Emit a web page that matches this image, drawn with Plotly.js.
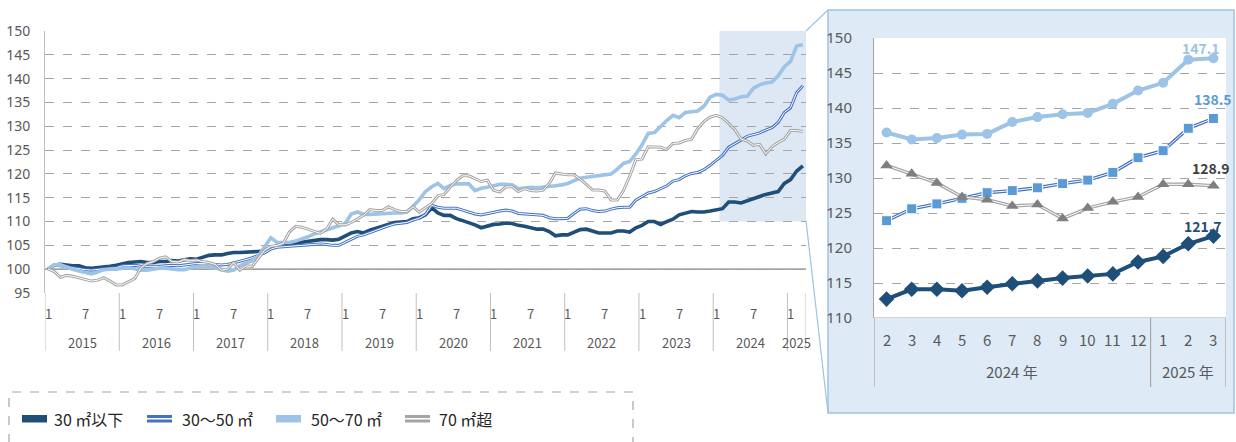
<!DOCTYPE html>
<html><head><meta charset="utf-8">
<script src="https://cdn.plot.ly/plotly-3.0.1.min.js"></script>
<style>html,body{margin:0;padding:0;background:#fff;overflow:hidden}#chart{width:1236px;height:442px}</style>
</head><body><div id="chart"></div>
<script>
// ---- categories ----
const years = [2015,2016,2017,2018,2019,2020,2021,2022,2023,2024,2025];
const monthsInYear = [12,12,12,12,12,12,12,12,12,12,3];
const monthTickLabels = [1,7];
const seriesNames = ['30 ㎡以下','30～50 ㎡','50～70 ㎡','70 ㎡超'];
const yearSuffix = ' 年';
const insetStartYear = 2024, insetStartMonth = 2;

// ---- series values (2015/1 - 2025/3) ----
const s30under = [
 100.0,100.9,101.0,100.8,100.7,100.7,100.3,100.2,100.3,100.5,100.6,100.8,
 101.1,101.4,101.5,101.6,101.4,101.4,101.6,101.6,101.8,101.7,102.0,102.2,
 102.1,102.5,102.9,103.0,103.0,103.3,103.5,103.5,103.6,103.7,103.7,103.8,
 104.5,104.9,105.2,105.3,105.5,105.7,105.8,106.0,106.2,106.2,106.1,106.3,
 107.0,107.6,107.9,107.6,108.2,108.6,108.9,109.4,109.8,109.9,110.0,110.6,
 110.8,111.4,112.9,111.8,111.3,111.3,110.6,110.2,109.8,109.3,108.7,109.1,
 109.4,109.5,109.7,109.6,109.2,109.0,108.6,108.4,108.4,107.9,107.0,107.2,
 107.2,107.8,108.3,108.4,108.0,107.6,107.6,107.6,108.0,108.0,107.8,108.7,
 109.2,110.0,110.0,109.4,110.0,110.5,111.4,111.7,112.1,112.0,112.0,112.2,
 112.5,112.7,114.1,114.1,113.9,114.4,114.9,115.3,115.7,116.0,116.3,118.0,
 118.8,120.6,121.7];
const s30to50 = [
 100.0,100.8,100.7,100.5,100.2,100.0,99.9,99.8,100.0,100.1,100.2,100.3,
 100.7,100.8,100.8,100.6,100.6,100.5,100.6,100.7,100.8,100.7,100.9,101.0,
 101.2,101.2,101.1,101.0,100.9,101.0,101.3,101.6,102.0,102.4,102.9,103.4,
 104.2,104.6,104.7,104.8,104.8,105.0,105.1,105.2,105.3,105.2,105.0,105.0,
 105.6,106.3,106.9,107.2,107.7,108.2,108.6,109.1,109.5,109.7,109.8,110.3,
 110.7,111.5,113.4,113.0,112.8,112.8,112.8,112.4,112.0,111.6,111.4,111.7,
 112.0,112.2,112.4,112.2,111.7,111.6,111.4,111.4,111.3,110.8,110.6,110.6,
 110.7,111.7,112.6,112.7,112.3,112.1,112.2,112.6,112.9,113.0,113.0,114.5,
 115.3,116.0,116.3,116.9,117.5,118.5,118.8,119.6,120.1,120.3,120.9,121.8,
 122.8,123.9,125.6,126.3,127.1,127.9,128.2,128.6,129.2,129.7,130.8,132.9,
 133.9,137.1,138.5];
const s50to70 = [
 100.0,100.9,100.9,100.4,100.0,99.6,99.3,99.0,99.4,99.9,100.0,100.0,
 100.2,100.3,100.1,99.8,99.8,100.0,100.2,100.2,100.0,99.9,99.9,100.3,
 100.6,100.7,100.6,100.3,100.0,99.6,99.8,100.7,101.3,101.8,102.8,104.8,
 106.6,105.6,105.6,105.6,105.9,106.3,106.8,107.4,107.8,108.3,108.7,109.1,
 109.6,111.6,112.0,111.5,111.5,111.6,111.6,111.7,111.8,111.8,112.0,113.2,
 114.6,116.3,117.3,118.0,116.9,117.6,117.9,117.9,117.9,116.5,117.0,117.2,
 117.5,117.8,117.8,117.7,116.9,117.1,117.2,117.1,117.2,117.4,117.5,117.7,
 118.0,118.6,119.1,119.3,119.5,119.7,119.8,120.0,121.0,122.2,122.6,124.2,
 126.1,128.5,128.7,130.0,131.2,132.3,131.8,132.9,133.1,133.2,134.2,136.1,
 136.7,136.5,135.5,135.7,136.2,136.3,138.0,138.7,139.1,139.3,140.6,142.5,
 143.6,146.9,147.1];
const s70over = [
 100.0,99.5,98.3,98.7,98.5,98.2,97.8,97.5,97.7,98.2,97.5,96.7,
 96.7,97.3,98.0,100.3,101.2,101.6,102.3,102.6,101.6,101.5,102.0,101.8,
 101.9,101.6,101.4,101.0,99.8,100.0,101.4,99.8,100.7,100.6,102.4,104.0,
 104.8,105.0,105.4,107.8,109.0,108.8,108.4,108.0,107.5,108.4,110.5,109.3,
 109.3,109.8,110.5,111.3,112.5,112.3,112.3,113.1,112.5,112.1,112.1,113.1,
 112.0,112.9,113.8,115.4,115.7,117.2,118.6,119.6,119.6,119.0,118.4,118.7,
 116.6,116.2,117.3,117.3,116.3,116.9,116.5,116.4,116.6,118.0,120.2,120.0,
 119.8,119.8,118.9,117.8,116.6,116.6,116.4,114.5,114.5,116.5,119.5,123.0,
 123.1,125.7,125.7,125.6,125.1,126.4,126.5,127.0,127.3,129.5,131.0,131.9,
 132.3,131.8,130.6,129.3,127.3,126.9,126.0,126.2,124.2,125.7,126.6,127.3,
 129.1,129.1,128.9];

// ---- build categories ----
const catYear = [], catMonth = [];
years.forEach((y,k)=>{ for(let m=1;m<=monthsInYear[k];m++){ catYear.push(y); catMonth.push(m);} });
const idx = catYear.map((_,i)=>i);
const N = idx.length;
let insetStart = 0;
for(let i=0;i<N;i++){ if(catYear[i]===insetStartYear && catMonth[i]===insetStartMonth){insetStart=i;break;} }
const insetIdx = idx.slice(insetStart).map(i=>i-insetStart);

const W=1236,H=442;
const px = x=>x/W, py = y=>1-y/H;

const C = {dark:'#1f4e79', blue:'#4472c4', blueM:'#5b9bd5', light:'#9dc3e6', gray:'#a5a5a5', grayM:'#7f7f7f'};
const txt = '#595959';
const FONT = 'Noto Sans CJK JP, Noto Sans, sans-serif';

const traces = [];
function line(x,y,color,width,xa,ya){traces.push({x,y,mode:'lines',line:{color,width,shape:'linear'},xaxis:xa,yaxis:ya,hoverinfo:'skip',showlegend:false});}
function dbl(x,y,color,xa,ya,w){line(x,y,color,w||3.2,xa,ya);line(x,y,'#ffffff',1.0,xa,ya);}

// main chart
line(idx,s30under,C.dark,3.6,'x','y');
dbl(idx,s30to50,C.blue,'x','y',3.0);
line(idx,s50to70,C.light,3.6,'x','y');
dbl(idx,s70over,C.gray,'x','y',3.0);

// inset
const i30u=s30under.slice(insetStart), i3050=s30to50.slice(insetStart), i5070=s50to70.slice(insetStart), i70o=s70over.slice(insetStart);
line(insetIdx,i30u,C.dark,4,'x2','y2');
traces.push({x:insetIdx,y:i30u,mode:'markers',marker:{symbol:'diamond',size:12,color:C.dark},xaxis:'x2',yaxis:'y2',hoverinfo:'skip',showlegend:false});
dbl(insetIdx,i3050,C.blue,'x2','y2',3.4);
traces.push({x:insetIdx,y:i3050,mode:'markers',marker:{symbol:'square',size:10,color:C.blueM,line:{color:'#ffffff',width:1}},xaxis:'x2',yaxis:'y2',hoverinfo:'skip',showlegend:false});
line(insetIdx,i5070,C.light,4,'x2','y2');
traces.push({x:insetIdx,y:i5070,mode:'markers',marker:{symbol:'circle',size:10,color:C.light},xaxis:'x2',yaxis:'y2',hoverinfo:'skip',showlegend:false});
dbl(insetIdx,i70o,C.gray,'x2','y2',3.4);
traces.push({x:insetIdx,y:i70o,mode:'markers',marker:{symbol:'triangle-up',size:11,color:C.grayM},xaxis:'x2',yaxis:'y2',hoverinfo:'skip',showlegend:false});

const shapes = [];
const annotations = [];
// inset background box
shapes.push({type:'rect',xref:'paper',yref:'paper',x0:px(828),x1:px(1234),y0:py(10),y1:py(413),fillcolor:'#deebf7',line:{color:C.light,width:1.5},layer:'below'});
// inset plot area white
shapes.push({type:'rect',xref:'x2 domain',yref:'y2 domain',x0:0,x1:1,y0:0,y1:1,fillcolor:'#ffffff',line:{width:0},layer:'below'});
// main highlighted region
shapes.push({type:'rect',xref:'x',yref:'y',x0:insetStart-0.5,x1:N-0.5,y0:110,y1:150,fillcolor:'#dde8f4',line:{width:0},layer:'below'});
// connectors
shapes.push({type:'line',xref:'paper',yref:'paper',x0:px(806),y0:py(31),x1:px(828),y1:py(10),line:{color:C.light,width:1.2}});
shapes.push({type:'line',xref:'paper',yref:'paper',x0:px(806),y0:py(220.5),x1:px(828),y1:py(413),line:{color:C.light,width:1.2}});
// 100 baseline
shapes.push({type:'line',xref:'x',yref:'y',x0:-0.5,x1:N-0.5,y0:100,y1:100,line:{color:'#7f7f7f',width:1.2},layer:'below'});
// inset 110 axis line
shapes.push({type:'line',xref:'x2',yref:'y2',x0:-0.5,x1:insetIdx.length-0.5,y0:110,y1:110,line:{color:'#a6a6a6',width:1.2}});

// main x-axis labels & separators
let start=0;
years.forEach((y,k)=>{
  const n=monthsInYear[k];
  shapes.push({type:'line',xref:'x',yref:'paper',x0:start-0.5,x1:start-0.5,y0:py(293),y1:py(351),line:{color:'#bfbfbf',width:1}});
  annotations.push({xref:'x',yref:'paper',x:start+(n-1)/2,y:py(342),text:String(y),showarrow:false,font:{family:FONT,size:13,color:txt},xanchor:'center',yanchor:'middle'});
  start+=n;
});
shapes.push({type:'line',xref:'x',yref:'paper',x0:N-0.5,x1:N-0.5,y0:py(293),y1:py(351),line:{color:'#bfbfbf',width:1}});
idx.forEach(i=>{ if(monthTickLabels.includes(catMonth[i])) annotations.push({xref:'x',yref:'paper',x:i,y:py(313),text:String(catMonth[i]),showarrow:false,font:{family:FONT,size:13,color:txt},xanchor:'center',yanchor:'middle'}); });

// inset x-axis labels & separators
const iy = catYear.slice(insetStart), im = catMonth.slice(insetStart);
insetIdx.forEach(j=>{
  annotations.push({xref:'x2',yref:'paper',x:j,y:py(339),text:String(im[j]),showarrow:false,font:{family:FONT,size:15,color:txt},xanchor:'center',yanchor:'middle'});
});
let groups=[]; insetIdx.forEach(j=>{ if(!groups.length||groups[groups.length-1].y!==iy[j]) groups.push({y:iy[j],a:j,b:j}); else groups[groups.length-1].b=j; });
groups.forEach(g=>{
  shapes.push({type:'line',xref:'x2',yref:'paper',x0:g.a-0.5,x1:g.a-0.5,y0:py(318),y1:py(387),line:{color:'#a6a6a6',width:1.2}});
  annotations.push({xref:'x2',yref:'paper',x:(g.a+g.b)/2,y:py(371),text:g.y+yearSuffix,showarrow:false,font:{family:FONT,size:15,color:txt},xanchor:'center',yanchor:'middle'});
});
shapes.push({type:'line',xref:'x2',yref:'paper',x0:insetIdx.length-0.5,x1:insetIdx.length-0.5,y0:py(318),y1:py(387),line:{color:'#a6a6a6',width:1.2}});

// inset value labels
const last = insetIdx.length-1;
[[i5070,C.light,-12,-10],[i3050,C.blueM,0,-20],[i70o,'#404040',-2,-18],[i30u,C.dark,-10,-10]].forEach(([arr,col,xs,ys])=>{
  annotations.push({xref:'x2',yref:'y2',x:last,y:arr[last],text:'<b>'+arr[last].toFixed(1)+'</b>',showarrow:false,font:{family:FONT,size:14,color:col},xanchor:'center',yanchor:'bottom',xshift:xs,yshift:-ys-12});
});

// legend
shapes.push({type:'rect',xref:'paper',yref:'paper',x0:px(9),x1:px(633),y0:py(470),y1:py(392),line:{color:'#a6a6a6',width:1.2,dash:'dash'},fillcolor:'rgba(0,0,0,0)'});
const legX=[22,147,276,405], legTX=[52,180,309,437];
const legStyle=[[C.dark,false],[C.blue,true],[C.light,false],[C.gray,true]];
legStyle.forEach(([col,isD],k)=>{
  shapes.push({type:'rect',xref:'paper',yref:'paper',x0:px(legX[k]),x1:px(legX[k]+25),y0:py(422.5),y1:py(415),fillcolor:col,line:{width:0}});
  if(isD) shapes.push({type:'rect',xref:'paper',yref:'paper',x0:px(legX[k]),x1:px(legX[k]+25),y0:py(419.5),y1:py(418),fillcolor:'#ffffff',line:{width:0}});
  annotations.push({xref:'paper',yref:'paper',x:px(legTX[k]),y:py(419),text:seriesNames[k],showarrow:false,font:{family:FONT,size:16,color:'#262626'},xanchor:'left',yanchor:'middle'});
});

const gridY = {showgrid:true,gridcolor:'#a6a6a6',griddash:'dash',gridwidth:1,zeroline:false,showline:true,linecolor:'#bfbfbf',linewidth:1,ticks:'outside',tickcolor:'rgba(0,0,0,0)',dtick:5,fixedrange:true};
const layout = {
  width:W,height:H,margin:{l:0,r:0,t:0,b:0},paper_bgcolor:'#ffffff',plot_bgcolor:'rgba(0,0,0,0)',
  showlegend:false,hovermode:false,
  xaxis:{domain:[px(45),px(806)],range:[-0.5,N-0.5],showgrid:false,zeroline:false,showline:false,showticklabels:false,fixedrange:true},
  yaxis:Object.assign({},gridY,{domain:[py(293),py(31)],range:[95,150],tick0:95,ticklen:11,tickfont:{family:'Noto Sans, sans-serif',size:14,color:txt}}),
  xaxis2:{domain:[px(874),px(1226)],range:[-0.5,insetIdx.length-0.5],anchor:'y2',showgrid:false,zeroline:false,showline:false,showticklabels:false,fixedrange:true},
  yaxis2:Object.assign({},gridY,{domain:[py(318),py(38)],range:[110,150],tick0:110,anchor:'x2',linecolor:'#a6a6a6',ticklen:18,tickfont:{family:'Noto Sans, sans-serif',size:15,color:txt}}),
  shapes,annotations
};
Plotly.newPlot('chart',traces,layout,{staticPlot:true,displayModeBar:false});
</script></body></html>
